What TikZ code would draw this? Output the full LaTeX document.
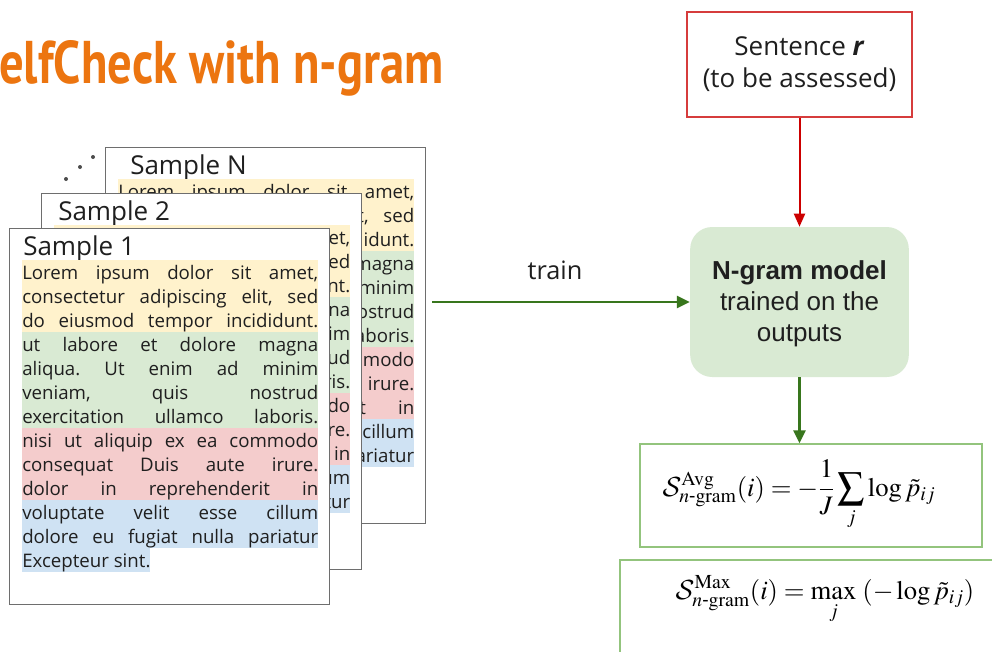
\documentclass[tikz,border=0pt]{standalone}
\usepackage{amsmath}
\usepackage{mathptmx}
\usepackage[no-math]{fontspec}
\usepackage{graphicx}
\DeclareMathAlphabet{\mathcal}{OMS}{cmsy}{m}{n}
\setmainfont{Open Sans}
\newfontfamily\arialfont{Liberation Sans}
\newfontfamily\titlefont{PT Sans}
\usetikzlibrary{arrows.meta}

\newlength\px
\setlength\px{0.75pt}

\definecolor{titleorange}{RGB}{236,117,16}
\definecolor{cardgray}{RGB}{110,110,110}
\definecolor{hlY}{RGB}{255,242,204}
\definecolor{hlG}{RGB}{217,234,211}
\definecolor{hlR}{RGB}{244,204,204}
\definecolor{hlB}{RGB}{207,226,243}
\definecolor{arrowred}{RGB}{204,0,0}
\definecolor{boxred}{RGB}{214,60,60}
\definecolor{arrowgreen}{RGB}{56,118,29}
\definecolor{modelgreen}{RGB}{217,234,211}
\definecolor{formulagreen}{RGB}{147,196,125}

% one sample sheet: name, left, top, title, title indent
\newcommand\samplecard[5]{%
  \node[card, anchor=north west] (#1) at (#2,#3) {};
  \node[cardtitle, anchor=base west] (#1-title) at (#2+#5,#3+27) {#4};
  \foreach \txt/\col [count=\k from 0] in {%
      {Lorem ipsum dolor sit amet,}/hlY,
      {consectetur adipiscing elit, sed}/hlY,
      {do eiusmod tempor incididunt.}/hlY,
      {ut labore et dolore magna}/hlG,
      {aliqua. Ut enim ad minim}/hlG,
      {veniam, quis nostrud}/hlG,
      {exercitation ullamco laboris.}/hlG,
      {nisi ut aliquip ex ea commodo}/hlR,
      {consequat Duis aute irure.}/hlR,
      {dolor in reprehenderit in}/hlR,
      {voluptate velit esse cillum}/hlB,
      {dolore eu fugiat nulla pariatur}/hlB}{%
    \node[textline, fill=\col] (#1-line\k) at (#2+13,#3+51+24*\k) {\makebox[296\px][s]{\txt}};
  }
  \node[textline, fill=hlB] (#1-line12) at (#2+13,#3+51+24*12) {Excepteur sint.};
}

\newcommand\ngram{n\text{-}\mathrm{gram}}

\begin{document}
\frenchspacing
\begin{tikzpicture}[x=0.75pt,y=-0.75pt,
  card/.style={draw=cardgray, line width=1.1pt, fill=white, inner sep=0pt,
    minimum width=240pt, minimum height=282pt},
  cardtitle/.style={inner sep=0pt, font=\fontsize{19.5pt}{23pt}\selectfont, text=black!88},
  textline/.style={anchor=base west, inner sep=0pt, text height=14.25pt, text depth=3.75pt,
    font=\fontsize{14pt}{18pt}\selectfont, text=black!88},
  dot/.style={circle, fill=black!70, inner sep=0pt, minimum size=3pt},
  redbox/.style={draw=boxred, line width=1pt, fill=white, align=center,
    minimum width=168.75pt, minimum height=78.75pt,
    font=\fontsize{19.5pt}{24pt}\selectfont, text=black!88},
  modelbox/.style={fill=modelgreen, rounded corners=16.5pt,
    minimum width=164pt, minimum height=112.5pt},
  modeltext/.style={align=center, inner sep=0pt,
    font=\arialfont\fontsize{19.5pt}{23.2pt}\selectfont, text=black!88},
  formulabox/.style={draw=formulagreen, line width=1pt, fill=white, inner sep=0pt,
    minimum width=256.5pt, minimum height=77.25pt},
  redarrow/.style={draw=arrowred, line width=1.5pt, -{Triangle[length=9.75pt,width=8.25pt]}},
  greenarrow/.style={draw=arrowgreen, line width=1.9pt, -{Triangle[length=9.75pt,width=9pt]}},
  mathtext/.style={inner sep=0pt, font=\fontsize{20pt}{23pt}\selectfont},
  labeltext/.style={font=\fontsize{19pt}{22pt}\selectfont, text=black!88},
]
\useasboundingbox (0,0) rectangle (992,651);
\clip (0,0) rectangle (992,651);
\fill[white] (0,0) rectangle (992,651);

% title
\node[anchor=base west, inner sep=0pt, text=titleorange] (title) at (-1,83)
  {\resizebox{333pt}{32.25pt}{\titlefont\bfseries elfCheck with n-gram}};

% stack of sampled outputs
\node[dot] (dot1) at (66,179) {};
\node[dot] (dot2) at (80,167) {};
\node[dot] (dot3) at (93,157) {};
\samplecard{sN}{105}{147}{Sample N}{25}
\samplecard{s2}{41}{193}{Sample 2}{17}
\samplecard{s1}{9}{228}{Sample 1}{14}

% sentence to be assessed
\node[redbox] (sent) at (799.5,64.5) {Sentence \textbf{\textit{r}}\\(to be assessed)};

% n-gram model
\node[modelbox] (model) at (799.5,302) {};
\node[modeltext] (modellbl) at (799.5,304) {\textbf{N-gram model}\\trained on the\\outputs};

% scores
\node[formulabox] (avgbox) at (811,495.5) {};
\node[mathtext] (avg) at (799,495)
  {$\displaystyle \mathcal{S}^{\mathrm{Avg}}_{\ngram}(i) = -\frac{1}{J}\sum_{j}\log\tilde{p}_{ij}$};
\draw[draw=formulagreen, line width=1pt] (1000,560) -- (620,560) -- (620,660);
\node[mathtext] (maxf) at (825,600)
  {$\displaystyle \mathcal{S}^{\mathrm{Max}}_{\ngram}(i) = \max_{j}\,\left(-\log\tilde{p}_{ij}\right)$};

% connectors
\coordinate (trainstart) at (432,302);
\node[labeltext] (trainlbl) at (555,270) {train};
\draw[greenarrow] (trainstart) -- (model.west);
\draw[redarrow] (sent.south) -- (model.north);
\draw[greenarrow] (model.south) -- (model.south |- avgbox.north);
\end{tikzpicture}
\end{document}
